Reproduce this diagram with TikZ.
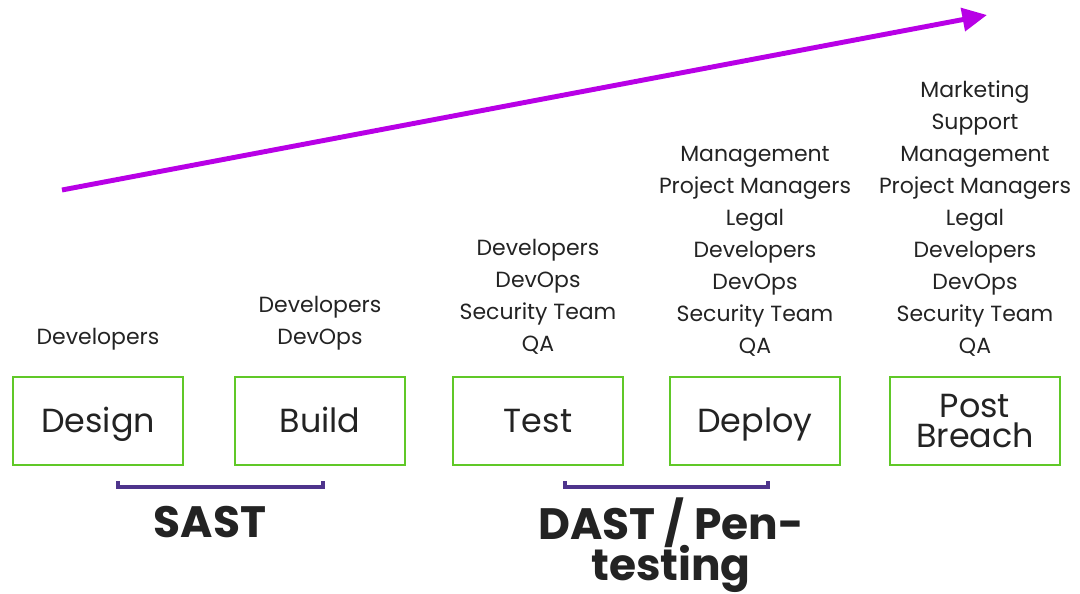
\documentclass[tikz,border=0pt]{standalone}
\usepackage{fontspec}
\setmainfont{Poppins}
\usepackage{tikz}
\usetikzlibrary{positioning,arrows.meta}
\usepackage{xcolor}
\definecolor{stagegreen}{RGB}{96,200,40}
\definecolor{trendpurple}{RGB}{184,0,230}
\definecolor{brackblue}{RGB}{78,52,140}
\definecolor{inkgray}{RGB}{35,35,35}

\begin{document}
\begin{tikzpicture}[x=0.02cm,y=-0.02cm,
      stage/.style={draw=stagegreen,line width=1.2pt,minimum width=3.4cm,minimum height=1.76cm,align=center,text=inkgray,text height=13.3pt,text depth=0pt,font=\fontsize{19}{17}\selectfont},
      who/.style={align=center,text=inkgray,font=\fontsize{12.5}{18.2}\selectfont,inner sep=0pt},
      brack/.style={draw=brackblue,line width=2.6pt},
      tool/.style={align=center,text=inkgray,font=\fontsize{25}{25}\selectfont\bfseries,inner sep=0pt}
    ]
      \useasboundingbox (0,0) rectangle (1080,594);
      % stages
      \node[stage] (design) at (98,421) {Design};
      \node[stage] (build) at (320,421) {Build};
      \node[stage] (test) at (538,421) {Test};
      \node[stage] (deploy) at (755,421) {Deploy};
      \node[stage,text height=,text depth=] (post) at (975,421) {Post\\Breach};
      % who is involved
      \node[who,above=0.5cm of design] (wdesign) {Developers};
      \node[who,above=0.5cm of build] (wbuild) {Developers\\DevOps};
      \node[who,above=0.42cm of test] (wtest) {Developers\\DevOps\\Security Team\\QA};
      \node[who,above=0.38cm of deploy] (wdeploy) {Management\\Project Managers\\Legal\\Developers\\DevOps\\Security Team\\QA};
      \node[who,above=0.38cm of post] (wpost) {Marketing\\Support\\Management\\Project Managers\\Legal\\Developers\\DevOps\\Security Team\\QA};
      % cost trend
      \coordinate (t0) at (62,190);
      \coordinate (t1) at (987,15);
      \draw[trendpurple,line width=2.8pt,-{Triangle[length=14pt,width=13pt]}] (t0) -- (t1);
      % testing brackets
      \coordinate (sa) at (118,481);
      \coordinate (sb) at (323,481);
      \coordinate (da) at (565,481);
      \coordinate (db) at (768,481);
      \draw[brack] (sa) |- (215,487) -| (sb);
      \draw[brack] (da) |- (666,487) -| (db);
      \node[tool] (sast) at (210,522) {SAST};
      \node[tool] (dast) at (671,545) {DAST / Pen-\\[-2pt]testing};
    \end{tikzpicture}
\end{document}
